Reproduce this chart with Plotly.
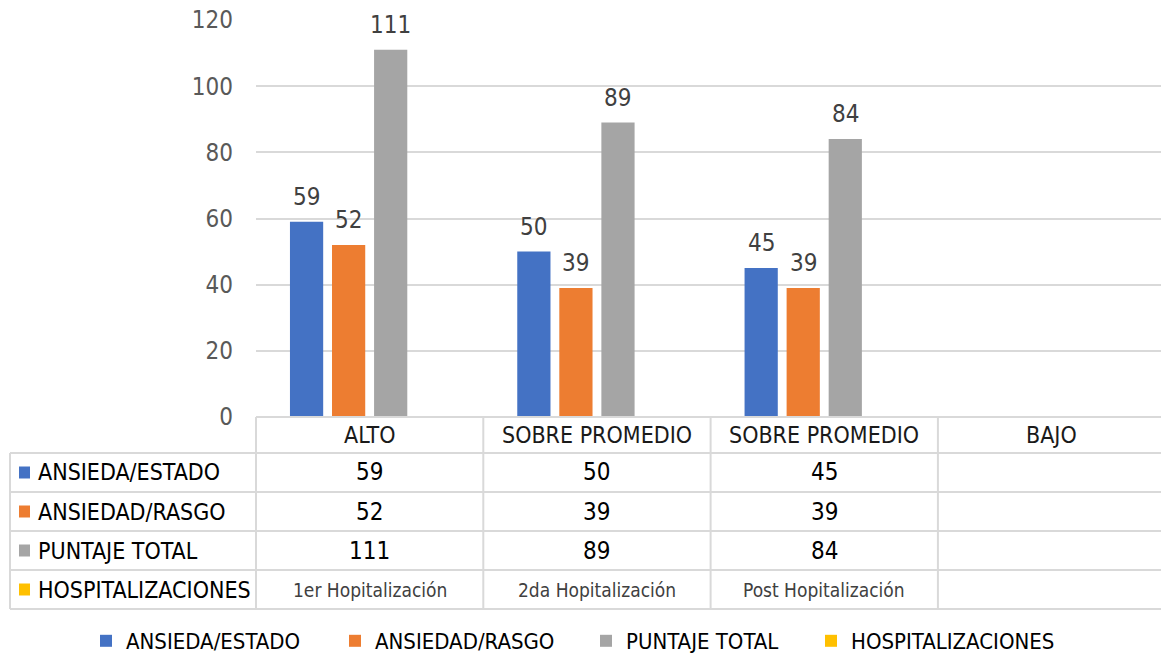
import plotly.graph_objects as go

# ---------------- data ----------------
niveles = ["ALTO", "SOBRE PROMEDIO", "SOBRE PROMEDIO", "BAJO"]
hospitalizaciones = ["1er Hopitalización", "2da Hopitalización", "Post Hopitalización", ""]
ansiedad_estado = [59, 50, 45, None]
ansiedad_rasgo = [52, 39, 39, None]
puntaje_total = [111, 89, 84, None]
series_names = ["ANSIEDA/ESTADO", "ANSIEDAD/RASGO", "PUNTAJE TOTAL", "HOSPITALIZACIONES"]
y_ticks = [0, 20, 40, 60, 80, 100, 120]

# ---------------- style ----------------
colors = ["#4472C4", "#ED7D31", "#A5A5A5", "#FFC000"]
FONT = "Liberation Sans Narrow, DejaVu Sans Condensed, Arial Narrow, sans-serif"
W, H = 1161, 656
GRID = "#d9d9d9"

X0_PX = 256          # left edge of plot area
Y0_PX = 417          # pixel row of value 0
YTOP_PX = 20         # pixel row of value 120
CAT_PX = 227.3       # width of a category column
BARGAP, GROUPGAP = 0.26, 0.21
n_cat = len(niveles)
x_pos = list(range(n_cat))
x_range = [-0.5, -0.5 + (W - X0_PX) / CAT_PX]
legend_text_px = [124, 373, 624, 849]   # legend entry positions (style)

def px_x(i):
    return X0_PX + (i - x_range[0]) * CAT_PX

def py(p):
    return 1 - p / H

numeric_series = [ansiedad_estado, ansiedad_rasgo, puntaje_total, [None] * n_cat]
legend_ids = ["legend", "legend2", "legend3", "legend4"]

fig = go.Figure()
for name, vals, col, lid in zip(series_names, numeric_series, colors, legend_ids):
    fig.add_trace(go.Bar(x=x_pos, y=vals, name=name, marker=dict(color=col, line_width=0),
                         hoverinfo="skip", legend=lid))

annotations = []
# data labels
n_ser = len(series_names)
slot = CAT_PX * (1 - BARGAP) / n_ser
for s, vals in enumerate(numeric_series):
    off = (s - (n_ser - 1) / 2) * slot
    for i, v in enumerate(vals):
        if v is None:
            continue
        annotations.append(dict(x=x_pos[i], y=v, xref="x", yref="y", text=str(v),
                                showarrow=False, xshift=off, yanchor="bottom", yshift=9,
                                font=dict(family=FONT, size=24, color="#404040")))

# ---------------- data table ----------------
row_lines = [417, 453, 492, 531, 570, 609]
TABLE_LEFT = 10
shapes = []
shapes.append(dict(type="line", xref="paper", yref="paper", x0=X0_PX / W, x1=1,
                   y0=py(row_lines[0]), y1=py(row_lines[0]), line=dict(color=GRID, width=2)))
for r in row_lines[1:]:
    shapes.append(dict(type="line", xref="paper", yref="paper", x0=TABLE_LEFT / W, x1=1,
                       y0=py(r), y1=py(r), line=dict(color=GRID, width=2)))
shapes.append(dict(type="line", xref="paper", yref="paper", x0=TABLE_LEFT / W, x1=TABLE_LEFT / W,
                   y0=py(row_lines[1]), y1=py(row_lines[-1]), line=dict(color=GRID, width=2)))
for i in range(n_cat):
    xb = px_x(i - 0.5)
    shapes.append(dict(type="line", xref="paper", yref="paper", x0=xb / W, x1=xb / W,
                       y0=py(row_lines[0]), y1=py(row_lines[-1]), line=dict(color=GRID, width=2)))

def row_center(k):
    return py((row_lines[k] + row_lines[k + 1]) / 2)

for i, lab in enumerate(niveles):
    annotations.append(dict(x=px_x(i) / W, y=row_center(0), xref="paper", yref="paper",
                            text=lab, showarrow=False, xanchor="center", yanchor="middle",
                            font=dict(family=FONT, size=23, color="#1a1a1a")))

table_rows = [ansiedad_estado, ansiedad_rasgo, puntaje_total, hospitalizaciones]
for r, (name, vals, col) in enumerate(zip(series_names, table_rows, colors)):
    yc = row_center(r + 1)
    ycp = (row_lines[r + 1] + row_lines[r + 2]) / 2
    shapes.append(dict(type="rect", xref="paper", yref="paper", x0=19 / W, x1=30 / W,
                       y0=py(ycp + 6), y1=py(ycp - 6), fillcolor=col, line_width=0))
    annotations.append(dict(x=36 / W, y=yc, xref="paper", yref="paper", text=name,
                            showarrow=False, xanchor="left", yanchor="middle",
                            font=dict(family=FONT, size=23, color="#000000")))
    for i, v in enumerate(vals):
        if v is None or v == "":
            continue
        is_text = isinstance(v, str)
        annotations.append(dict(x=px_x(i) / W, y=yc, xref="paper", yref="paper", text=str(v),
                                showarrow=False, xanchor="center", yanchor="middle",
                                font=dict(family=FONT, size=19 if is_text else 24,
                                          color="#404040" if is_text else "#000000")))

legend_common = dict(orientation="h", yanchor="middle", xanchor="left", y=py(641),
                     font=dict(family=FONT, size=22, color="#000000"),
                     bgcolor="rgba(0,0,0,0)", borderwidth=0)
legends = {lid: dict(legend_common, x=(tx - 38) / W) for lid, tx in zip(legend_ids, legend_text_px)}

fig.update_layout(
    width=W, height=H,
    margin=dict(l=0, r=0, t=0, b=0, autoexpand=False),
    paper_bgcolor="white", plot_bgcolor="white",
    barmode="group", bargap=BARGAP, bargroupgap=GROUPGAP,
    showlegend=True,
    shapes=shapes,
    annotations=annotations,
    xaxis=dict(domain=[X0_PX / W, 1], range=x_range, showticklabels=False, showgrid=False,
               zeroline=False, showline=False, ticks=""),
    yaxis=dict(domain=[py(Y0_PX), py(YTOP_PX)], range=[0, 120], tickvals=y_ticks,
               showgrid=True, gridcolor=GRID, gridwidth=1.5, zeroline=True, zerolinecolor=GRID,
               zerolinewidth=2, showline=False, ticks="", ticklabelstandoff=22,
               tickfont=dict(family=FONT, size=24, color="#595959")),
    **legends,
)

fig.write_html("out.html")
